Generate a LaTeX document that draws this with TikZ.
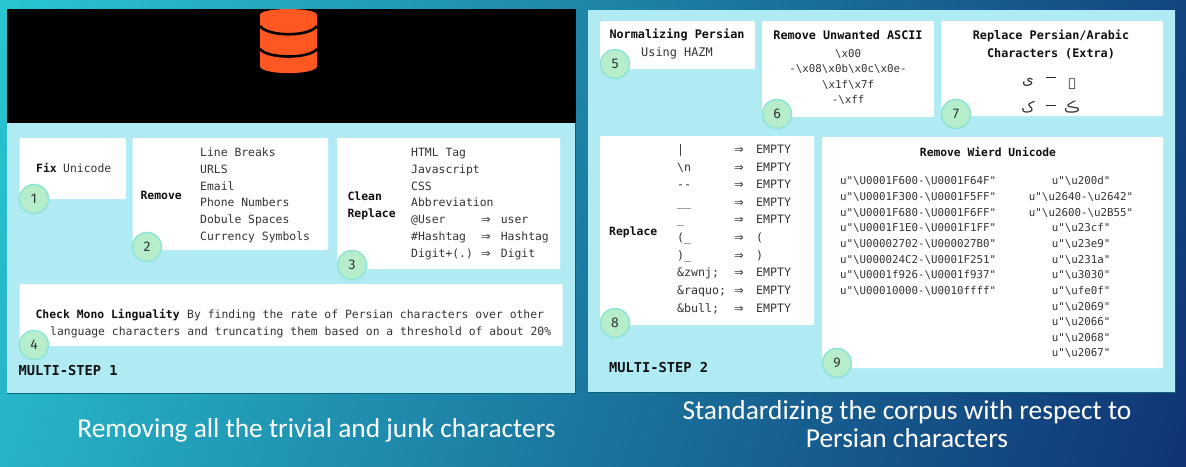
\documentclass[tikz,border=0pt]{standalone}
\usepackage{fontspec}
\setmainfont{Liberation Sans}
\newfontfamily\capfont{Carlito}
\newfontfamily\numfont{Fira Sans}
\newfontfamily\mono{DejaVu Sans Mono}
\newfontfamily\arrowfont{DejaVu Sans}
\newfontfamily\arabicfont[Script=Arabic]{DejaVu Sans}
\newfontfamily\yehfont[Script=Arabic]{Noto Sans}
\TeXXeTstate=1
\definecolor{panelc}{HTML}{B0EBF3}
\definecolor{edgec}{HTML}{0B6478}
\definecolor{circf}{HTML}{B6EECB}
\definecolor{circd}{HTML}{8CE4D6}
\definecolor{txtc}{HTML}{333333}
\definecolor{boldc}{HTML}{101010}
\definecolor{orangec}{HTML}{FF5722}
\definecolor{bga}{HTML}{2ACAD4}
\definecolor{bgb}{HTML}{1C9CBC}
\definecolor{bgc}{HTML}{0F2F72}
\newcommand{\bs}{\textbackslash}
\newcommand{\arr}{{\arrowfont\fontsize{11.5}{13}\selectfont ⇒}}
\tikzset{
  panelbox/.style={fill=panelc},
  whitebox/.style={fill=white,rounded corners=1pt},
  edgeline/.style={draw=edgec,line width=1pt},
  base/.style={inner sep=0pt,text height=8.5pt,text depth=2.5pt,font=\mono\fontsize{11.4}{13}\selectfont,text=txtc},
  item/.style={base,anchor=west},
  litem/.style={base,anchor=west,font=\mono\fontsize{11.6}{13}\selectfont},
  mid/.style={base,anchor=center,font=\mono\fontsize{10.8}{13}\selectfont},
  hd/.style={base,anchor=west,text=boldc,font=\mono\bfseries\fontsize{11.4}{13}\selectfont},
  hdc/.style={base,anchor=center,text=boldc,font=\mono\bfseries\fontsize{11.8}{13}\selectfont},
  uni/.style={base,font=\mono\fontsize{10.8}{13}\selectfont},
  stepname/.style={base,anchor=west,text=boldc,font=\mono\bfseries\fontsize{13.7}{15}\selectfont},
  badge/.style={circle,minimum size=29pt,inner sep=0pt,fill=circf,draw=circd,line width=1.4pt,text=txtc,font=\numfont\fontsize{14}{16}\selectfont},
  caption/.style={inner sep=0pt,text=white,align=center,font=\capfont\fontsize{27.4}{28}\selectfont},
  arabic/.style={inner sep=0pt,text=txtc,font=\arabicfont\fontsize{15}{17}\selectfont}
}
\begin{document}
\begin{tikzpicture}[x=1pt,y=-1pt]
\useasboundingbox (0,0) rectangle (1186,466);
% background
\begin{scope}
\clip (0,0) rectangle (1186,466);
\shade[shading=axis,left color=bga,middle color=bgb,right color=bgc,shading angle=70] (-100,-400) rectangle (1286,866);
\end{scope}
% panels
\fill[panelbox] (7,123) rectangle (575,393);
\fill[black] (7,9) rectangle (576,123);
\draw[edgeline] (7,393) -- (575,393) -- (575,123);
\fill[panelbox] (588,10) rectangle (1175,392);
\draw[edgeline] (588,392) -- (1175,392) -- (1175,10);
% database icon
\begin{scope}
\clip (7,9) rectangle (576,123);
\fill[orangec] (260,15) .. controls (260,7) and (317,7) .. (317,15) -- (317,66) .. controls (317,75.5) and (260,75.5) .. (260,66) -- cycle;
\draw[black,line width=2.6pt] (260,26) .. controls (268,37) and (309,37) .. (317,26);
\draw[black,line width=2.6pt] (260,49) .. controls (268,59) and (309,59) .. (317,49);
\end{scope}
% white boxes
\fill[whitebox] (19.5,138) rectangle (126,199);
\fill[whitebox] (132.5,138) rectangle (328,250);
\fill[whitebox] (337,138) rectangle (560,269);
\fill[whitebox] (19.5,284) rectangle (562.5,346);
\fill[whitebox] (600,21) rectangle (755,69);
\fill[whitebox] (762,21) rectangle (934,117);
\fill[whitebox] (941,21) rectangle (1163,116);
\fill[whitebox] (600,136) rectangle (814,325);
\fill[whitebox] (822,137) rectangle (1163,368);
% step 1
\node[hd] (fixa) at (36,169) {Fix};
\node[item] (fixb) at (63,169) {Unicode};
\node[hd] (rem) at (140.4,196) {Remove};
\node[item] (r1) at (200,153) {Line Breaks};
\node[item] (r2) at (200,170) {URLS};
\node[item] (r3) at (200,187) {Email};
\node[item] (r4) at (200,203.5) {Phone Numbers};
\node[item] (r5) at (200,220) {Dobule Spaces};
\node[item] (r6) at (200,237) {Currency Symbols};
\node[hd] (cl1) at (347.4,197) {Clean};
\node[hd] (cl2) at (347.4,214) {Replace};
\node[item] (c1) at (411,153) {HTML Tag};
\node[item] (c2) at (411,170) {Javascript};
\node[item] (c3) at (411,187) {CSS};
\node[item] (c4) at (411,203.5) {Abbreviation};
\node[item] (c5) at (411,220) {@User};
\node[item] (c6) at (411,237) {\#Hashtag};
\node[item] (c7) at (411,254) {Digit+(.)};
\node[item] (c5a) at (481,220) {\arr};
\node[item] (c6a) at (481,237) {\arr};
\node[item] (c7a) at (481,254) {\arr};
\node[item] (c5b) at (500.6,220) {user};
\node[item] (c6b) at (500.6,237) {Hashtag};
\node[item] (c7b) at (500.6,254) {Digit};
\node[hd] (ck) at (35.4,315) {Check Mono Linguality};
\node[item] (ck1) at (187,315) {By finding the rate of Persian characters over other};
\node[item] (ck2) at (50,332) {language characters and truncating them based on a threshold of about 20\%};
\node[stepname] (ms1) at (18.4,372) {MULTI-STEP 1};
% step 2
\node[hdc] (n1) at (677,35) {Normalizing Persian};
\node[base,anchor=center,font=\mono\fontsize{11.9}{13}\selectfont] (n2) at (677,53) {Using HAZM};
\node[hdc] (u0) at (848,36) {Remove Unwanted ASCII};
\node[mid] (u1) at (848,54) {\bs x00};
\node[mid] (u2) at (848,69.5) {-\bs x08\bs x0b\bs x0c\bs x0e-};
\node[mid] (u3) at (848,85) {\bs x1f\bs x7f};
\node[mid] (u4) at (848,100) {-\bs xff};
\node[hdc] (p1) at (1051,36) {Replace Persian/Arabic};
\node[hdc] (p2) at (1051,54) {Characters (Extra)};
\node[arabic] (a1) at (1028,82) {\beginR ی\endR};
\node[arabic,font=\yehfont\fontsize{15}{17}\selectfont] (a2) at (1072,84) {\beginR ے\endR};
\node[arabic] (a3) at (1028,107) {\beginR ک\endR};
\node[arabic] (a4) at (1072,107) {\beginR ڪ\endR};
\coordinate (d1a) at (1046,77); \coordinate (d1b) at (1056,77);
\coordinate (d2a) at (1046,105); \coordinate (d2b) at (1056,105);
\draw[txtc,line width=1pt] (d1a) -- (d1b);
\draw[txtc,line width=1pt] (d2a) -- (d2b);
\node[hd] (rp) at (609,232) {Replace};
\node[litem] (l1) at (677,150.7) {|};
\node[litem] (l2) at (677,168) {\bs n};
\node[litem] (l3) at (677,185.7) {--};
\node[litem] (l4) at (677,203) {\_\_};
\node[litem] (l5) at (677,220.7) {\_};
\node[litem] (l6) at (677,238) {(\_};
\node[litem] (l7) at (677,256) {)\_};
\node[litem] (l8) at (677,273.7) {\&zwnj;};
\node[litem] (l9) at (677,291) {\&raquo;};
\node[litem] (l10) at (677,309) {\&bull;};
\foreach \yy/\tt/\nn in {150.7/EMPTY/1,168/EMPTY/2,185.7/EMPTY/3,203/EMPTY/4,220.7/EMPTY/5,238/(/6,256/)/7,273.7/EMPTY/8,291/EMPTY/9,309/EMPTY/10}{
  \node[litem] (ar\nn) at (734,\yy) {\arr};
  \node[litem] (rh\nn) at (756,\yy) {\tt};
}
\node[base,anchor=center,text=boldc,font=\mono\bfseries\fontsize{11.3}{13}\selectfont] (w0) at (988,153) {Remove Wierd Unicode};
\foreach \yy/\tt/\nn in {181.7/0001F600-\bs U0001F64F/1,197.3/0001F300-\bs U0001F5FF/2,213/0001F680-\bs U0001F6FF/3,228.7/0001F1E0-\bs U0001F1FF/4,244.3/00002702-\bs U000027B0/5,260/000024C2-\bs U0001F251/6,275.7/0001f926-\bs U0001f937/7,291.3/00010000-\bs U0010ffff/8}{
  \node[uni,anchor=west] (wl\nn) at (840,\yy) {u"\bs U\tt"};
}
\foreach \yy/\tt/\nn in {181.7/u200d/1,197.3/u2640-\bs u2642/2,213/u2600-\bs u2B55/3,228.7/u23cf/4,244.3/u23e9/5,260/u231a/6,275.7/u3030/7,291.3/ufe0f/8,307/u2069/9,322.6/u2066/10,338.2/u2068/11,353.8/u2067/12}{
  \node[uni,anchor=center] (wr\nn) at (1081,\yy) {u"\bs\tt"};
}
\node[stepname] (ms2) at (609,369) {MULTI-STEP 2};
% badges
\node[badge] (b1) at (34,199) {1};
\node[badge] (b2) at (147,247) {2};
\node[badge] (b3) at (352,265) {3};
\node[badge] (b4) at (34,345) {4};
\node[badge] (b5) at (615,64) {5};
\node[badge] (b6) at (777,114) {6};
\node[badge] (b7) at (956,114) {7};
\node[badge] (b8) at (615,323) {8};
\node[badge] (b9) at (837,363) {9};
% captions
\node[caption] (cap1) at (316.5,430) {Removing all the trivial and junk characters};
\node[caption] (cap2) at (907,424) {Standardizing the corpus with respect to\\Persian characters};
\end{tikzpicture}
\end{document}
